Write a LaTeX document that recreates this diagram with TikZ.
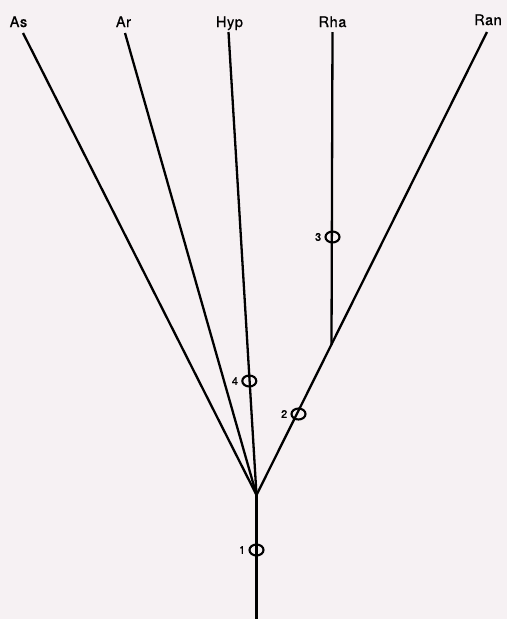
\documentclass[tikz,border=0pt]{standalone}
\usepackage{fontspec}
\setmainfont{TeX Gyre Heros}
\newfontfamily\treefont[FakeBold=0.9, LetterSpace=4]{TeX Gyre Heros}
\usepackage{tikz}
\usetikzlibrary{
  positioning,
  shapes.geometric
}
\definecolor{paper}{RGB}{246,241,243}

\begin{document}
\begin{tikzpicture}[x=1pt, y=-1pt,
  branch/.style={line width=2.3pt, black},
  taxon/.style={font=\treefont\fontsize{14.5}{16}\selectfont, inner sep=0pt, anchor=base},
  change/.style={ellipse, draw, line width=2.1pt, minimum width=14pt, minimum height=11pt, inner sep=0pt},
  num/.style={font=\treefont\fontsize{11}{12}\selectfont, inner sep=0pt}
]
  % Paper
  \fill[paper] (0,0) rectangle (507,619);
  \useasboundingbox (0,0) rectangle (507,619);

  % Taxa
  \foreach \name/\x/\y in {As/18.5/27, Ar/123.5/27, Hyp/229.5/27, Rha/332.5/27, Ran/488/25} {
    \node[taxon] (\name) at (\x,\y) {\name};
  }

  % Branch tips and inner nodes
  \coordinate (tAs) at (23,33);
  \coordinate (tAr) at (125,33);
  \coordinate (tHyp) at (228.5,32);
  \coordinate (tRha) at (332.5,32);
  \coordinate (tRan) at (487,32);
  \coordinate (root) at (256.5,619);
  \coordinate (fork) at (256.5,495);
  \coordinate (join) at (331.5,345);

  % Branches
  \draw[branch] (root) -- (fork);
  \foreach \t in {As,Ar,Hyp,Ran} {
    \draw[branch] (t\t) -- (fork);
  }
  \draw[branch] (tRha) -- (join);

  % Character changes
  \node[change] (m1) at (256.5,550) {};
  \node[change] (m2) at (298.5,414) {};
  \node[change] (m3) at (332.5,237) {};
  \node[change] (m4) at (249.3,381) {};
  \foreach \i in {1,...,4} {
    \node[num, left=3pt of m\i] {\i};
  }
\end{tikzpicture}
\end{document}
